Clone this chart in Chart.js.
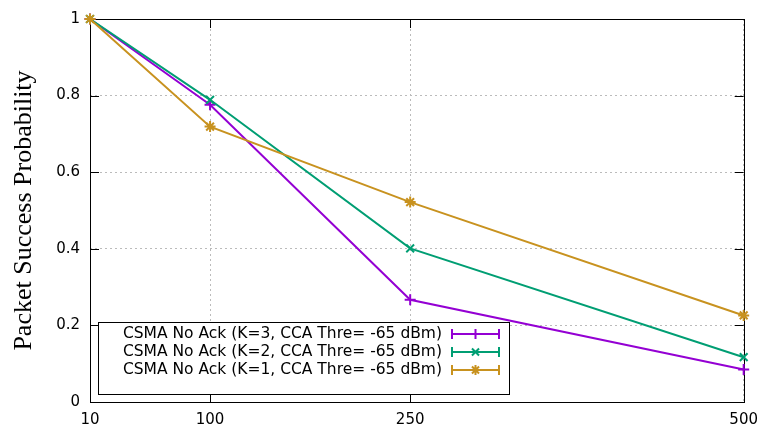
<!DOCTYPE html>
<html>
<head>
<meta charset="utf-8">
<script src="https://cdn.jsdelivr.net/npm/chart.js@4/dist/chart.umd.min.js"></script>
<style>
  body { margin: 0; background: #fff; }
  canvas { display: block; }
</style>
</head>
<body>
<canvas id="psChart" width="767" height="432"></canvas>
<script>
// node counts on the x axis
const xValues = [10, 100, 250, 500];
const yTicks = [0, 0.2, 0.4, 0.6, 0.8, 1];

// packet success probability per series
const k3Values = [1, 0.776, 0.267, 0.085];
const k2Values = [1, 0.789, 0.401, 0.117];
const k1Values = [1, 0.719, 0.522, 0.226];

const seriesLabels = [
    'CSMA No Ack (K=3, CCA Thre= -65 dBm)',
    'CSMA No Ack (K=2, CCA Thre= -65 dBm)',
    'CSMA No Ack (K=1, CCA Thre= -65 dBm)'
];

const toPoints = (vals) => xValues.map((x, i) => ({ x: x, y: vals[i] }));

// frame box with inward ticks on all four sides (gnuplot look)
const framePlugin = {
    id: 'frame',
    beforeDatasetsDraw(chart) {
        const { ctx, chartArea: a, scales: { x, y } } = chart;
        const len = 9;
        ctx.save();
        ctx.strokeStyle = '#000';
        ctx.lineWidth = 1;
        ctx.strokeRect(Math.round(a.left) + 0.5, Math.round(a.top) + 0.5,
            Math.round(a.right - a.left), Math.round(a.bottom - a.top));
        ctx.beginPath();
        xValues.forEach(v => {
            const px = Math.round(x.getPixelForValue(v)) + 0.5;
            ctx.moveTo(px, a.bottom); ctx.lineTo(px, a.bottom - len);
            ctx.moveTo(px, a.top); ctx.lineTo(px, a.top + len);
        });
        yTicks.forEach(v => {
            const py = Math.round(y.getPixelForValue(v)) + 0.5;
            ctx.moveTo(a.left, py); ctx.lineTo(a.left + len, py);
            ctx.moveTo(a.right, py); ctx.lineTo(a.right - len, py);
        });
        ctx.stroke();
        ctx.restore();
    }
};

// legend box inside the plot, lower left, with error-bar style samples
const legendPlugin = {
    id: 'boxLegend',
    afterDatasetsDraw(chart) {
        const { ctx, chartArea: a } = chart;
        const bx = a.left + 8, by = a.bottom - 80, bw = 411, bh = 72;
        ctx.save();
        ctx.fillStyle = '#fff';
        ctx.fillRect(bx, by, bw, bh);
        ctx.strokeStyle = '#000';
        ctx.lineWidth = 1;
        ctx.strokeRect(bx + 0.5, by + 0.5, bw, bh);
        ctx.font = '15.5px "DejaVu Sans"';
        ctx.textAlign = 'right';
        ctx.textBaseline = 'middle';
        chart.data.datasets.forEach((ds, i) => {
            const rowY = by + 12 + i * 18;
            ctx.fillStyle = '#000';
            ctx.fillText(ds.label, bx + 344, rowY);
            const x1 = bx + 354, x2 = bx + 401;
            ctx.strokeStyle = ds.borderColor;
            ctx.lineWidth = 2;
            ctx.beginPath();
            ctx.moveTo(x1, rowY); ctx.lineTo(x2, rowY);
            ctx.moveTo(x1, rowY - 5); ctx.lineTo(x1, rowY + 5);
            ctx.moveTo(x2, rowY - 5); ctx.lineTo(x2, rowY + 5);
            ctx.stroke();
            ctx.fillStyle = ds.borderColor;
            Chart.helpers.drawPoint(ctx, {
                pointStyle: ds.pointStyle, radius: 5, borderWidth: 2, rotation: 0
            }, (x1 + x2) / 2, rowY);
        });
        ctx.restore();
    }
};

const colors = ['#9400d3', '#009e73', '#c8921f'];
const styles = ['cross', 'crossRot', 'star'];
const seriesValues = [k3Values, k2Values, k1Values];

const ctx = document.getElementById('psChart').getContext('2d');
const psChart = new Chart(ctx, {
    type: 'line',
    data: {
        datasets: seriesValues.map((vals, i) => ({
            label: seriesLabels[i],
            data: toPoints(vals),
            borderColor: colors[i],
            backgroundColor: colors[i],
            borderWidth: 2,
            pointStyle: styles[i],
            pointRadius: 5.5,
            pointBorderWidth: 2,
            tension: 0,
            clip: false,
            order: 2 - i
        }))
    },
    options: {
        responsive: false,
        animation: false,
        layout: { padding: { top: 14, right: 22, left: 0, bottom: 0 } },
        plugins: {
            legend: { display: false },
            tooltip: { enabled: false }
        },
        scales: {
            x: {
                type: 'linear',
                min: 10,
                max: 500,
                afterBuildTicks: (scale) => {
                    scale.ticks = xValues.map(v => ({ value: v }));
                },
                afterFit: (scale) => { scale.height = 30; },
                grid: { color: '#bbb', lineWidth: 1, drawTicks: false },
                border: { display: false, dash: [2, 3] },
                ticks: {
                    color: '#000',
                    padding: 9,
                    maxRotation: 0,
                    font: { family: 'DejaVu Sans', size: 15 }
                }
            },
            y: {
                min: 0,
                max: 1,
                afterBuildTicks: (scale) => {
                    scale.ticks = yTicks.map(v => ({ value: v }));
                },
                afterFit: (scale) => { scale.width = 90; },
                grid: { color: '#bbb', lineWidth: 1, drawTicks: false },
                border: { display: false, dash: [2, 3] },
                ticks: {
                    color: '#000',
                    padding: 10,
                    font: { family: 'DejaVu Sans', size: 15 },
                    callback: (v) => String(v)
                },
                title: {
                    display: true,
                    text: 'Packet Success Probability',
                    color: '#000',
                    padding: { top: 9, bottom: 0 },
                    font: { family: 'Liberation Serif', size: 26, weight: 'normal' }
                }
            }
        }
    },
    plugins: [framePlugin, legendPlugin]
});
</script>
</body>
</html>
